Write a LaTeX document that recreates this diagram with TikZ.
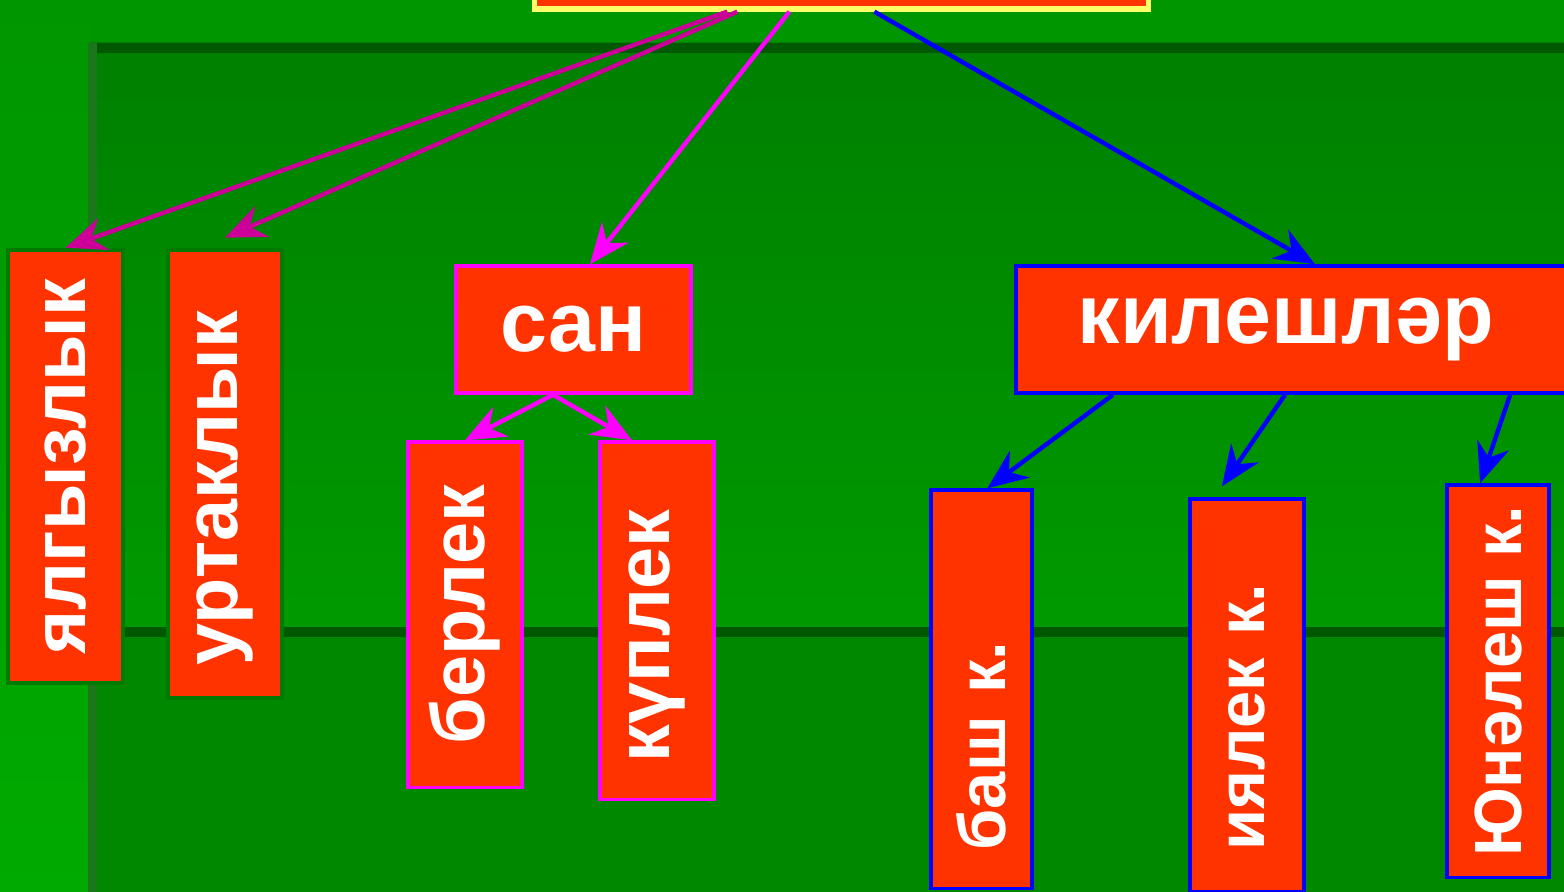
\documentclass[tikz,border=0pt]{standalone}
\usepackage{fontspec}
\setmainfont{Liberation Sans}
\usepackage{tikz}
\usetikzlibrary{positioning,arrows.meta}
\definecolor{bggreen}{RGB}{0,150,0}
\definecolor{stripTop}{RGB}{0,150,0}
\definecolor{stripBot}{RGB}{0,170,0}
\definecolor{panelTop}{RGB}{0,128,0}
\definecolor{panelBot}{RGB}{0,154,0}
\definecolor{panelLow}{RGB}{0,136,0}
\definecolor{panelLine}{RGB}{0,88,0}
\definecolor{panelEdge}{RGB}{28,118,28}
\definecolor{boxred}{RGB}{255,51,0}
\definecolor{rootyellow}{RGB}{255,255,102}
\definecolor{boxgreen}{RGB}{0,122,0}
\definecolor{sanpink}{RGB}{255,0,255}
\definecolor{kilblue}{RGB}{0,0,255}
\definecolor{linkpurple}{RGB}{204,0,153}
\tikzset{
  box/.style={fill=boxred, text=white, line width=1pt, inner sep=0pt},
  bigtxt/.style={font=\fontsize{24pt}{28pt}\selectfont\bfseries},
  vert/.style={rotate=90, font=\fontsize{21.5pt}{24pt}\selectfont\bfseries},
  smallvert/.style={rotate=90, font=\fontsize{19pt}{22pt}\selectfont\bfseries},
  rootbox/.style={box, draw=rootyellow, line width=1.5pt},
  nounbox/.style={box, draw=boxgreen, line width=1.2pt},
  sanbox/.style={box, draw=sanpink},
  kilbox/.style={box, draw=kilblue}
}
\begin{document}
\begin{tikzpicture}[x=0.01cm,y=-0.01cm,on grid,>={Stealth[length=11.5pt,width=9.5pt,inset=3.8pt]}]
\useasboundingbox (0,0) rectangle (1564,892);
\fill[bggreen] (0,0) rectangle (1564,892);
\shade[top color=stripTop, bottom color=stripBot] (0,0) rectangle (90,892);
\shade[top color=panelTop, bottom color=panelBot] (90,43) rectangle (1564,630);
\fill[panelLow] (90,637) rectangle (1564,892);
\fill[panelLine] (90,43) rectangle (1564,53);
\fill[panelLine] (90,627) rectangle (1564,637);
\fill[panelEdge] (88,43) rectangle (97,892);

\node[rootbox, minimum width=6.13cm, minimum height=1.1cm] (root) at (841.5,-46) {};
\node[nounbox, vert, minimum width=4.33cm, minimum height=1.15cm] (yal) at (65.5,466.5) {ялгызлык};
\node[nounbox, vert, minimum width=4.48cm, minimum height=1.14cm, align=left, text width=3.82cm, inner xsep=0.33cm] (urt) at (225,474) {уртаклык};
\node[sanbox, bigtxt, minimum width=2.35cm, minimum height=1.27cm] (san) at (573.5,329.5) {сан};
\node[sanbox, vert, minimum width=3.45cm, minimum height=1.14cm] (berlek) [below left=2.85cm and 1.085cm of san] {берлек};
\node[sanbox, vert, minimum width=3.57cm, minimum height=1.14cm, align=left, text width=2.83cm, inner xsep=0.37cm] (kuplek) [below right=2.91cm and 0.835cm of san] {күплек};
\node[kilbox, bigtxt, minimum width=5.64cm, minimum height=1.27cm, align=left, text width=4.40cm, inner xsep=0.62cm] (kil) at (1298,329.5) {килешләр};
\node[kilbox, smallvert, minimum width=3.98cm, minimum height=1.01cm, align=left, text width=3.22cm, inner xsep=0.38cm] (bash) [below left=3.595cm and 3.165cm of kil] {баш к.};
\node[kilbox, smallvert, minimum width=3.92cm, minimum height=1.14cm, align=left, text width=3.10cm, inner xsep=0.41cm] (iyal) [below left=3.655cm and 0.51cm of kil] {иялек к.};
\node[kilbox, smallvert, minimum width=3.92cm, minimum height=1.02cm] (yun) [below right=3.515cm and 2.0cm of kil] {Юнәлеш к.};

\path[->, linkpurple, line width=1.25pt]
  ([xshift=1.95cm]root.south west) edge (yal.east)
  ([xshift=2.05cm]root.south west) edge ([yshift=0.1cm]urt.east);
\path[->, sanpink, line width=1.25pt]
  ([xshift=2.57cm]root.south west) edge ([xshift=0.165cm]san.north)
  ([xshift=-0.205cm]san.south) edge (berlek.east)
  ([xshift=-0.205cm]san.south) edge ([xshift=-0.25cm]kuplek.east);
\path[->, kilblue, line width=1.25pt]
  ([xshift=3.42cm]root.south west) edge ([xshift=0.17cm]kil.north)
  ([xshift=-1.85cm]kil.south) edge ([xshift=0.06cm]bash.east)
  ([xshift=-0.13cm]kil.south) edge ([xshift=-0.25cm,yshift=0.11cm]iyal.east)
  ([xshift=2.12cm]kil.south) edge ([xshift=-0.18cm]yun.east);
\end{tikzpicture}
\end{document}
